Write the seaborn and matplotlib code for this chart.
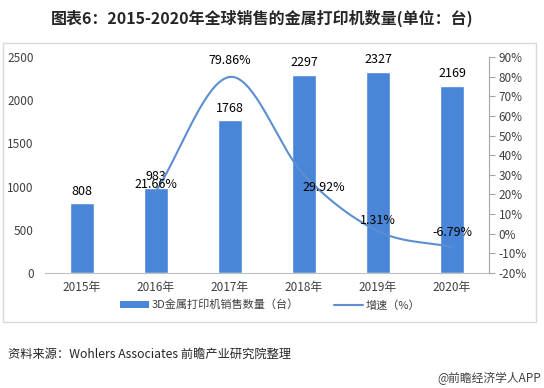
import numpy as np
import pandas as pd
import matplotlib
matplotlib.use('Agg')
import matplotlib.pyplot as plt
import seaborn as sns
from matplotlib.patches import Rectangle, Patch
from matplotlib.lines import Line2D

sns.set_style('white')
plt.rcParams['font.family'] = ['Noto Sans CJK SC', 'DejaVu Sans']
plt.rcParams['axes.unicode_minus'] = False

# 数据
years = ['2015年', '2016年', '2017年', '2018年', '2019年', '2020年']
sales = [808, 983, 1768, 2297, 2327, 2169]
growth = [np.nan, 21.66, 79.86, 29.92, 1.31, -6.79]
growth_labels = ['', '21.66%', '79.86%', '29.92%', '1.31%', '-6.79%']
left_ticks = [0, 500, 1000, 1500, 2000, 2500]
right_ticks = [-20, -10, 0, 10, 20, 30, 40, 50, 60, 70, 80, 90]

bar_color = '#4a86d8'
line_color = '#5b8fd0'
W, H = 544, 388

fig = plt.figure(figsize=(W / 100, H / 100), dpi=100)
fig.patch.set_facecolor('white')

# 外框
fig.add_artist(Rectangle((3 / W, 1 - 322 / H), (536 - 3) / W, (322 - 43) / H,
                         transform=fig.transFigure, fill=False,
                         edgecolor='#d9d9d9', linewidth=1.0))

ax = fig.add_axes([45 / W, 1 - 273 / H, (489 - 45) / W, (273 - 57) / H])
df = pd.DataFrame({'year': years, 'sales': sales})
sns.barplot(data=df, x='year', y='sales', color=bar_color, width=0.32,
            saturation=1, ax=ax)
ax.set_xlim(-0.5, 5.5)
ax.set_ylim(0, 2500)
ax.set_yticks(left_ticks)
ax.set_xlabel('')
ax.set_ylabel('')
ax.tick_params(axis='y', length=0, labelsize=8.5, labelcolor='#404040', pad=8)
ax.tick_params(axis='x', length=0, labelsize=8.5, labelcolor='#404040', pad=6)
for s in ['left', 'top', 'right']:
    ax.spines[s].set_visible(False)
ax.spines['bottom'].set_color('#bfbfbf')
ax.patch.set_alpha(0)

for i, v in enumerate(sales):
    ax.annotate(str(v), (i, v), xytext=(0, 4), textcoords='offset points',
                ha='center', va='bottom', fontsize=9, color='#000000')

# 增速 (平滑曲线)
ax2 = ax.twinx()
ax2.set_ylim(-20, 90)
ax2.set_yticks(right_ticks)
ax2.set_yticklabels([f'{t}%' for t in right_ticks])
ax2.tick_params(axis='y', length=4, direction='out', color='#a6a6a6',
                labelsize=8.5, labelcolor='#404040', pad=3)
for s in ['left', 'top', 'bottom']:
    ax2.spines[s].set_visible(False)
ax2.spines['right'].set_color('#a6a6a6')


def catmull_rom(v0, v1, v2, v3, t):
    return 0.5 * ((2 * v1) + (-v0 + v2) * t + (2 * v0 - 5 * v1 + 4 * v2 - v3) * t ** 2
                  + (-v0 + 3 * v1 - 3 * v2 + v3) * t ** 3)


gx = np.array([i for i, g in enumerate(growth) if not np.isnan(g)], float)
gy = np.array([g for g in growth if not np.isnan(g)], float)
px = np.concatenate([[2 * gx[0] - gx[1]], gx, [2 * gx[-1] - gx[-2]]])
py = np.concatenate([[2 * gy[0] - gy[1]], gy, [2 * gy[-1] - gy[-2]]])
t = np.linspace(0, 1, 40)
sx, sy = [], []
for k in range(1, len(px) - 2):
    sx.extend(catmull_rom(*px[k - 1:k + 3], t))
    sy.extend(catmull_rom(*py[k - 1:k + 3], t))
sns.lineplot(x=sx, y=sy, sort=False, color=line_color, linewidth=1.5, ax=ax2)

offsets = [(0, 0), (0, 0), (0, 7), (14, -14), (0, 3), (0, 6)]
for i, (g, lab) in enumerate(zip(growth, growth_labels)):
    if np.isnan(g):
        continue
    ax2.annotate(lab, (i, g), xytext=offsets[i], textcoords='offset points',
                 ha='center', va='bottom', fontsize=9, color='#000000')

# 图例
handles = [Patch(facecolor=bar_color, edgecolor='none'),
           Line2D([0], [0], color=line_color, linewidth=1.5)]
fig.legend(handles, ['3D金属打印机销售数量（台）', '增速（%）'],
           loc='center', bbox_to_anchor=(270 / W, 1 - 305 / H), ncol=2,
           frameon=False, fontsize=8, handlelength=2.6, handleheight=0.6,
           columnspacing=3.2, handletextpad=0.2, labelcolor='#404040')

# 标题和来源
fig.text(262 / W, 1 - 18 / H, '图表6：2015-2020年全球销售的金属打印机数量(单位：台)',
         ha='center', va='center', fontsize=11.5, fontweight='bold', color='#262626')
fig.text(8 / W, 1 - 354 / H, '资料来源：Wohlers Associates 前瞻产业研究院整理',
         ha='left', va='center', fontsize=8.8, color='#262626')
fig.text(541 / W, 1 - 378 / H, '@前瞻经济学人APP',
         ha='right', va='center', fontsize=8.5, color='#404040')

fig.savefig('out.png', dpi=100)
